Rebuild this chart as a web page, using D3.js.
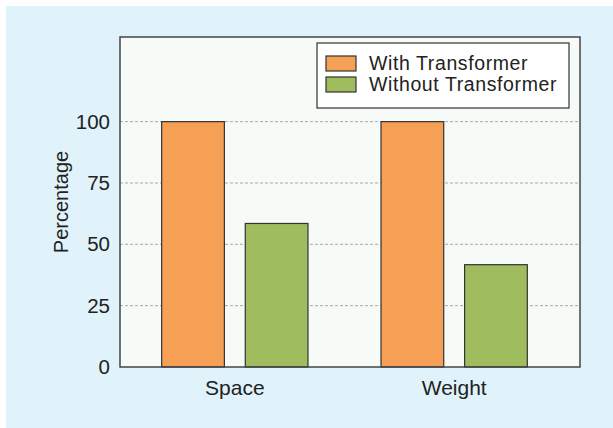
<!DOCTYPE html>
<html>
<head>
<meta charset="utf-8">
<script src="https://cdn.jsdelivr.net/npm/d3@7"></script>
<style>
  body { margin: 0; background: #ffffff; }
  svg { display: block; }
</style>
</head>
<body>
<div id="chart"></div>
<script>
// data
const categories = ["Space", "Weight"];
const series = ["With Transformer", "Without Transformer"];
const withTransformer = [100, 100];
const withoutTransformer = [58.5, 41.7];
const yTicks = [0, 25, 50, 75, 100];
const seriesColours = ["#f5a055", "#9fbc5f"];

const width = 613;
const height = 428;
const plot = {left: 120, right: 580, top: 37, bottom: 367};
const font = "'Liberation Sans', Arial, Helvetica, sans-serif";

const rows = categories.map((c, i) => ({
  category: c,
  values: [withTransformer[i], withoutTransformer[i]]
}));

const svg = d3.select("#chart")
  .append("svg")
    .attr("width", width)
    .attr("height", height);

// light blue panel
svg.append("rect")
  .attr("x", 6).attr("y", 6)
  .attr("width", width - 6).attr("height", height - 6)
  .attr("fill", "#e0f3fa");

// plot background
svg.append("rect")
  .attr("x", plot.left).attr("y", plot.top)
  .attr("width", plot.right - plot.left)
  .attr("height", plot.bottom - plot.top)
  .attr("fill", "#f6fbf8");

const yScale = d3.scaleLinear()
  .domain([0, 134.5])
  .range([plot.bottom, plot.top]);

const xScale = d3.scaleBand()
  .domain(categories)
  .range([plot.left, 569])
  .paddingInner(0.333)
  .paddingOuter(0.19);

const innerScale = d3.scaleBand()
  .domain(series)
  .range([0, xScale.bandwidth()])
  .paddingInner(0.25);

const colourScale = d3.scaleOrdinal()
  .domain(series)
  .range(seriesColours);

// dashed grid lines
svg.append("g")
  .selectAll("line")
  .data(yTicks.filter(t => t > 0))
  .join("line")
    .attr("x1", plot.left).attr("x2", plot.right)
    .attr("y1", d => yScale(d)).attr("y2", d => yScale(d))
    .attr("stroke", "#a8a8a8")
    .attr("stroke-width", 1)
    .attr("stroke-dasharray", "3,2");

// bars
const groups = svg.append("g")
  .selectAll("g")
  .data(rows)
  .join("g")
    .attr("transform", d => `translate(${xScale(d.category)},0)`);

groups.selectAll("rect")
  .data(d => d.values.map((v, i) => ({key: series[i], value: v})))
  .join("rect")
    .attr("x", d => innerScale(d.key))
    .attr("y", d => yScale(d.value))
    .attr("width", innerScale.bandwidth())
    .attr("height", d => yScale(0) - yScale(d.value))
    .attr("fill", d => colourScale(d.key))
    .attr("stroke", "#333")
    .attr("stroke-width", 1.2);

// plot frame
svg.append("rect")
  .attr("x", plot.left).attr("y", plot.top)
  .attr("width", plot.right - plot.left)
  .attr("height", plot.bottom - plot.top)
  .attr("fill", "none")
  .attr("stroke", "#444")
  .attr("stroke-width", 1.5);

// axes
const yAxis = d3.axisLeft(yScale)
  .tickValues(yTicks)
  .tickSize(0)
  .tickPadding(10);

svg.append("g")
  .attr("transform", `translate(${plot.left},0)`)
  .call(yAxis)
  .call(g => g.select(".domain").remove())
  .selectAll("text")
    .attr("font-family", font)
    .attr("font-size", 20.5)
    .attr("fill", "#222");

const xAxis = d3.axisBottom(xScale)
  .tickSize(0)
  .tickPadding(13);

svg.append("g")
  .attr("transform", `translate(0,${plot.bottom})`)
  .call(xAxis)
  .call(g => g.select(".domain").remove())
  .selectAll("text")
    .attr("font-family", font)
    .attr("font-size", 21)
    .attr("fill", "#222");

// y title
svg.append("text")
  .text("Percentage")
  .attr("transform", "translate(68,202) rotate(-90)")
  .attr("text-anchor", "middle")
  .attr("font-family", font)
  .attr("font-size", 20)
  .attr("fill", "#222");

// legend
const legend = svg.append("g");

legend.append("rect")
  .attr("x", 317).attr("y", 43)
  .attr("width", 252).attr("height", 65)
  .attr("fill", "#ffffff")
  .attr("stroke", "#333")
  .attr("stroke-width", 1.2);

const items = legend.selectAll("g")
  .data(series)
  .join("g")
    .attr("transform", (d, i) => `translate(326,${56 + i * 21})`);

items.append("rect")
  .attr("width", 30).attr("height", 15)
  .attr("fill", d => colourScale(d))
  .attr("stroke", "#333")
  .attr("stroke-width", 1.2);

items.append("text")
  .text(d => d)
  .attr("x", 43)
  .attr("y", 7.5)
  .attr("dy", "0.35em")
  .attr("font-family", font)
  .attr("font-size", 19.5)
  .attr("letter-spacing", 0.6)
  .attr("fill", "#222");
</script>
</body>
</html>
